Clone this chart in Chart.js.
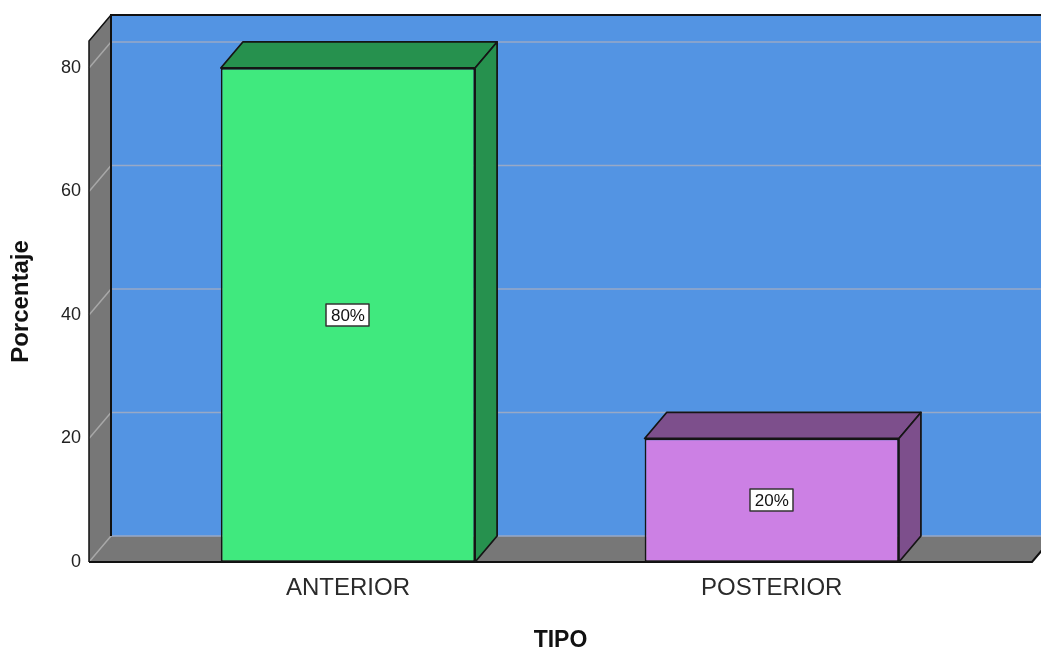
<!DOCTYPE html>
<html><head><meta charset="utf-8">
<script src="https://cdn.jsdelivr.net/npm/chart.js@4.4.1/dist/chart.umd.min.js"></script>
<style>html,body{margin:0;padding:0;background:#fff;}canvas{display:block}</style>
</head><body>
<canvas id="c" width="1041" height="652"></canvas>
<script>
const categories = ['ANTERIOR', 'POSTERIOR'];
const percentages = [80, 20];
const pctLabels = ['80%', '20%'];
const yTicks = [0, 20, 40, 60, 80];
const frontColors = ['#40E97E', '#CC80E4'];
const shadeColors = ['#26914E', '#7D4F8C'];

const DEPTH_X = 22, DEPTH_Y = -26;
const FONT = '"Liberation Sans", Arial, sans-serif';

function poly(ctx, pts) {
  ctx.beginPath();
  ctx.moveTo(pts[0][0], pts[0][1]);
  for (let i = 1; i < pts.length; i++) ctx.lineTo(pts[i][0], pts[i][1]);
  ctx.closePath();
}

const box3d = {
  id: 'box3d',
  beforeDatasetsDraw(chart) {
    const ctx = chart.ctx, a = chart.chartArea, ys = chart.scales.y;
    const L = a.left, R = a.right, T = a.top, B = a.bottom, dx = DEPTH_X, dy = DEPTH_Y;
    const W = chart.width;
    ctx.save();
    // back wall
    ctx.fillStyle = '#5394E3';
    ctx.fillRect(L + dx, T + dy, W - (L + dx) + 10, B - T);
    // left wall
    ctx.fillStyle = '#777777';
    poly(ctx, [[L, T], [L + dx, T + dy], [L + dx, B + dy], [L, B]]);
    ctx.fill();
    // floor
    poly(ctx, [[L, B], [L + dx, B + dy], [R + dx, B + dy], [R, B]]);
    ctx.fill();
    // gridlines
    ctx.lineWidth = 1.5;
    yTicks.forEach(v => {
      const py = ys.getPixelForValue(v);
      ctx.strokeStyle = '#a8a8a8';
      ctx.beginPath(); ctx.moveTo(L, py); ctx.lineTo(L + dx, py + dy); ctx.stroke();
      ctx.strokeStyle = '#98a9c6';
      ctx.beginPath(); ctx.moveTo(L + dx, py + dy); ctx.lineTo(R + dx, py + dy); ctx.stroke();
    });
    // edges
    ctx.strokeStyle = '#111';
    ctx.lineWidth = 2;
    ctx.beginPath(); ctx.moveTo(L + dx, B + dy); ctx.lineTo(L + dx, T + dy); ctx.lineTo(R + dx + 10, T + dy); ctx.stroke();
    ctx.lineWidth = 1.5;
    ctx.beginPath(); ctx.moveTo(L + dx, T + dy); ctx.lineTo(L, T); ctx.lineTo(L, B); ctx.stroke();
    ctx.lineWidth = 2;
    ctx.beginPath(); ctx.moveTo(L, B); ctx.lineTo(R, B); ctx.lineTo(R + dx, B + dy); ctx.stroke();
    ctx.restore();
  },
  afterDatasetsDraw(chart) {
    const ctx = chart.ctx, dx = DEPTH_X, dy = DEPTH_Y;
    const meta = chart.getDatasetMeta(0);
    ctx.save();
    meta.data.forEach((bar, i) => {
      const p = bar.getProps(['x', 'y', 'base', 'width'], true);
      const x0 = p.x - p.width / 2, x1 = p.x + p.width / 2, y = p.y, base = p.base;
      ctx.fillStyle = shadeColors[i];
      ctx.strokeStyle = '#151515';
      ctx.lineWidth = 1.75;
      ctx.lineJoin = 'round';
      poly(ctx, [[x0, y], [x0 + dx, y + dy], [x1 + dx, y + dy], [x1, y]]);
      ctx.fill(); ctx.stroke();
      poly(ctx, [[x1, y], [x1 + dx, y + dy], [x1 + dx, base + dy], [x1, base]]);
      ctx.fill(); ctx.stroke();
      // value label
      const ly = (y + base) / 2;
      ctx.font = '17px ' + FONT;
      const tw = ctx.measureText(pctLabels[i]).width;
      const bw = Math.round(tw + 9), bh = 22;
      const bx = Math.round(p.x - bw / 2), by = Math.round(ly - bh / 2);
      ctx.fillStyle = '#ffffff';
      ctx.fillRect(bx, by, bw, bh);
      ctx.strokeStyle = '#333';
      ctx.lineWidth = 1.5;
      ctx.strokeRect(bx, by, bw, bh);
      ctx.fillStyle = '#111';
      ctx.textAlign = 'center';
      ctx.textBaseline = 'middle';
      ctx.fillText(pctLabels[i], p.x, ly + 1);
    });
    ctx.restore();
  }
};

new Chart(document.getElementById('c'), {
  type: 'bar',
  data: {
    datasets: [{
      data: percentages.map((v, i) => ({ x: i, y: v })),
      backgroundColor: frontColors,
      borderColor: '#151515',
      borderWidth: 1.75,
      borderSkipped: false,
      categoryPercentage: 1,
      barPercentage: 0.6
    }]
  },
  options: {
    responsive: false,
    animation: false,
    devicePixelRatio: 1,
    layout: { padding: { left: 0, right: 9, top: 41, bottom: 0 } },
    plugins: { legend: { display: false }, tooltip: { enabled: false } },
    scales: {
      x: {
        type: 'linear',
        offset: false,
        min: -0.611,
        max: 1.614,
        afterBuildTicks: s => { s.ticks = categories.map((c, i) => ({ value: i })); },
        afterFit: s => { s.height = 90; },
        grid: { display: false, drawTicks: false, offset: false },
        border: { display: false },
        ticks: {
          callback: v => categories[v],
          color: '#2a2a2a',
          font: { family: FONT, size: 24 },
          padding: 12,
          maxRotation: 0,
          autoSkip: false
        },
        title: {
          display: true,
          text: 'TIPO',
          color: '#111',
          font: { family: FONT, size: 23, weight: 'bold', lineHeight: 1 },
          padding: { top: 0, bottom: 0 }
        }
      },
      y: {
        min: 0,
        max: 84.37,
        afterBuildTicks: s => { s.ticks = yTicks.map(v => ({ value: v })); },
        afterFit: s => { s.width = 89; },
        grid: { display: false, drawTicks: false },
        border: { display: false },
        ticks: {
          color: '#222',
          font: { family: FONT, size: 18 },
          padding: 8
        },
        title: {
          display: true,
          text: 'Porcentaje',
          color: '#111',
          font: { family: FONT, size: 24, weight: 'bold', lineHeight: 1 },
          padding: { top: 9, bottom: 0 }
        }
      }
    }
  },
  plugins: [box3d]
});
</script>
</body></html>
